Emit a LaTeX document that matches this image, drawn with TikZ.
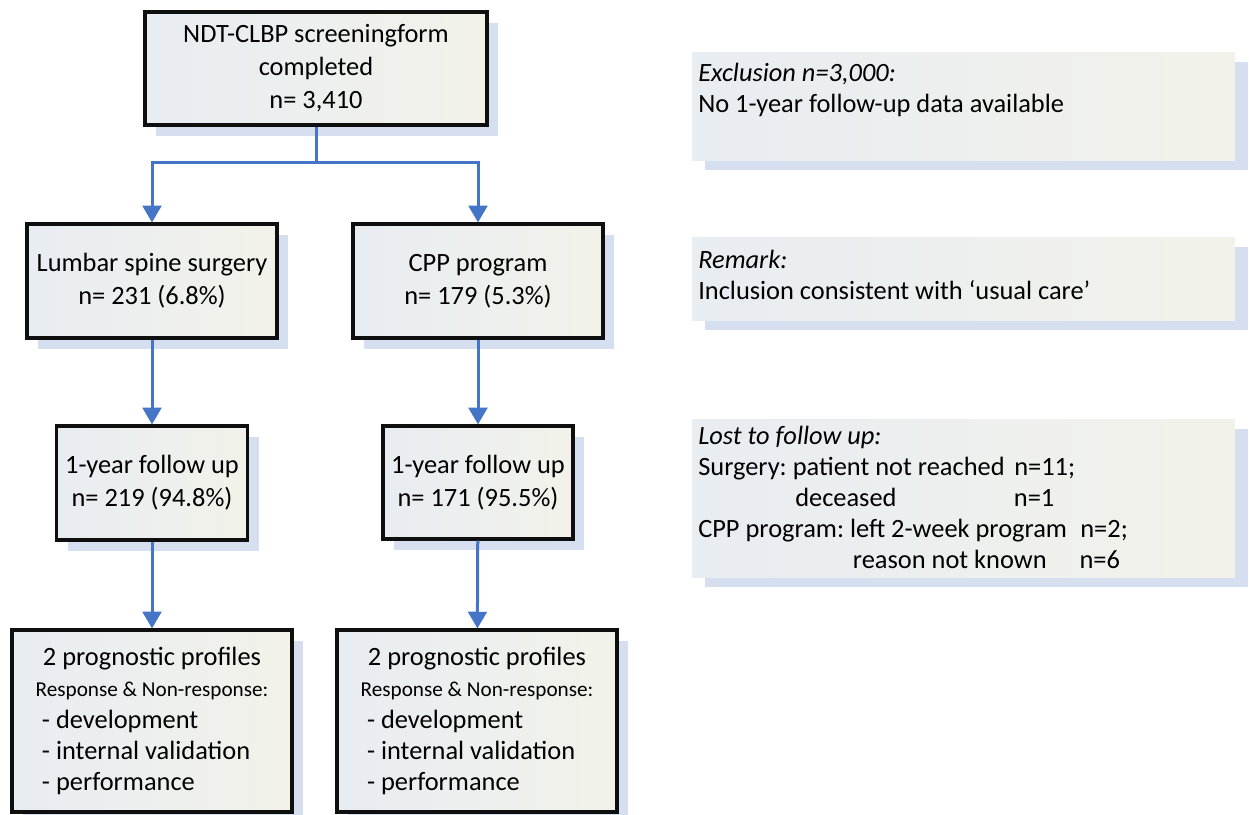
\documentclass[tikz,border=0pt]{standalone}
\usepackage{fontspec}
\setmainfont{Carlito}
\usetikzlibrary{arrows.meta,shadows}

\newlength{\du}
\setlength{\du}{0.75pt}

\definecolor{boxline}{rgb}{0.060000, 0.060000, 0.060000}
\definecolor{fillleft}{rgb}{0.910000, 0.928000, 0.950000}
\definecolor{fillright}{rgb}{0.950000, 0.950000, 0.915000}
\definecolor{shadowblue}{rgb}{0.835000, 0.875000, 0.940000}
\definecolor{arrowblue}{rgb}{0.270000, 0.460000, 0.780000}

\tikzset{
  flowbox/.style={draw=boxline, line width=3.2\du, inner sep=0pt, align=center,
    left color=fillleft, right color=fillright,
    drop shadow={shadow xshift=11\du, shadow yshift=-11\du, fill=shadowblue, opacity=1},
    font=\fontsize{19.8pt}{24.8pt}\selectfont\frenchspacing},
  notebox/.style={inner sep=0pt, left color=fillleft, right color=fillright,
    drop shadow={shadow xshift=13\du, shadow yshift=-10\du, fill=shadowblue, opacity=1}},
  notetext/.style={anchor=north west, inner sep=0pt, align=left,
    font=\fontsize{19.8pt}{23.2pt}\selectfont\frenchspacing},
  flowarrow/.style={draw=arrowblue, line width=3\du,
    -{Triangle[width=14pt,length=12.5pt]}},
}

\newcommand{\listline}[1]{\makebox[165pt][l]{#1}}

\begin{document}
\begin{tikzpicture}[x=\du,y=-\du]
\useasboundingbox (0,0) rectangle (1249,814);

% flow boxes
\node[flowbox, minimum width=342\du, minimum height=113\du] (screen) at (316,68.5)
  {NDT-CLBP screeningform\\completed\\n= 3,410};
\node[flowbox, minimum width=250\du, minimum height=114\du] (lumbar) at (152,281)
  {Lumbar spine surgery\\n= 231 (6.8\%)};
\node[flowbox, minimum width=250\du, minimum height=114\du] (cpp) at (478,281)
  {CPP program\\n= 179 (5.3\%)};
\node[flowbox, minimum width=191\du, minimum height=114\du] (followA) at (152,483)
  {1-year follow up\\n= 219 (94.8\%)};
\node[flowbox, minimum width=190\du, minimum height=113\du] (followB) at (478,482.5)
  {1-year follow up\\n= 171 (95.5\%)};
\node[flowbox, minimum width=280\du, minimum height=182\du,
      font=\fontsize{19.8pt}{23.4pt}\selectfont] (profA) at (152,721)
  {2 prognostic profiles\\
   {\fontsize{15.9pt}{20pt}\selectfont Response \& Non-response:}\\
   \listline{- development}\\\listline{- internal validation}\\\listline{- performance}};
\node[flowbox, minimum width=280\du, minimum height=182\du,
      font=\fontsize{19.8pt}{23.4pt}\selectfont] (profB) at (477,721)
  {2 prognostic profiles\\
   {\fontsize{15.9pt}{20pt}\selectfont Response \& Non-response:}\\
   \listline{- development}\\\listline{- internal validation}\\\listline{- performance}};

% connectors
\coordinate (split) at (316,162);
\draw[flowarrow] (screen.south) -- (split) -| (lumbar.north);
\draw[flowarrow] (split) -| (cpp.north);
\draw[flowarrow] (lumbar) -- (followA);
\draw[flowarrow] (cpp) -- (followB);
\draw[flowarrow] (followA) -- (profA);
\draw[flowarrow] (followB) -- (profB);

% side notes
\node[notebox, minimum width=543\du, minimum height=108\du] (exclnote) at (963.5,106) {};
\node[notetext] (excltext) at (698,63)
  {\textit{Exclusion n=3,000:}\\No 1-year follow-up data available};

\node[notebox, minimum width=543\du, minimum height=83\du] (remarknote) at (963.5,278.5) {};
\node[notetext] (remarktext) at (698,250)
  {\textit{Remark:}\\Inclusion consistent with ‘usual care’};

\node[notebox, minimum width=543\du, minimum height=158\du] (lostnote) at (963.5,498) {};
\node[notetext] (losttext) at (698,426)
  {\textit{Lost to follow up:}\\
   \makebox[237pt][l]{Surgery: patient not reached}n=11;\\
   \hspace*{72.75pt}\makebox[164pt][l]{deceased}n=1\\
   \makebox[286.5pt][l]{CPP program: left 2-week program}n=2;\\
   \hspace*{116pt}\makebox[170pt][l]{reason not known}n=6};
\end{tikzpicture}
\end{document}
